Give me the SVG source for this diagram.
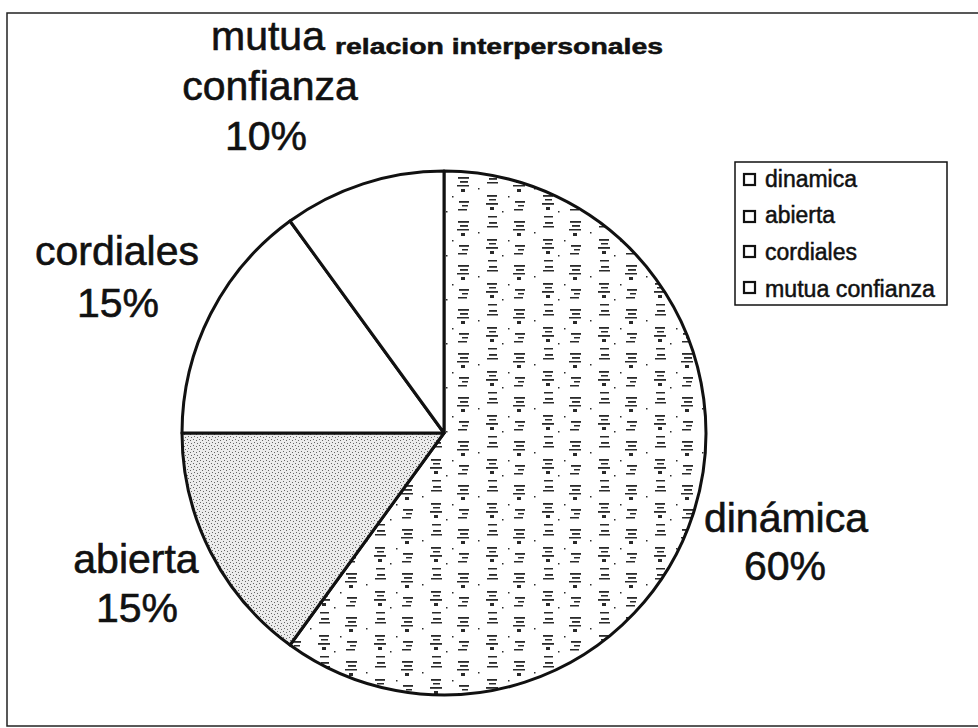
<svg xmlns="http://www.w3.org/2000/svg" width="978" height="728" viewBox="0 0 978 728">
<style>
.lbl{font-family:"Liberation Sans",Arial,sans-serif;font-size:41px;fill:#111;stroke:#111;stroke-width:0.6;text-anchor:middle}
.leg{font-family:"Liberation Sans",Arial,sans-serif;font-size:23px;fill:#111;stroke:#111;stroke-width:0.5}
.ttl{font-family:"Liberation Sans",Arial,sans-serif;font-size:22px;font-weight:bold;fill:#111;stroke:#111;stroke-width:0.5}
.slice{stroke:#111;stroke-width:3;stroke-linejoin:round}
.sw{fill:#fff;stroke:#111;stroke-width:2.2}
</style>
<defs>
<pattern id="pDin" width="56" height="44" patternUnits="userSpaceOnUse" x="450" y="175">
<rect width="56" height="44" fill="#fff"/>
<g fill="#2a2a2a">
<rect x="8" y="2" width="11" height="1.8"/>
<rect x="10" y="6" width="8" height="1.8"/>
<rect x="7" y="10" width="12" height="1.5"/>
<rect x="11" y="14" width="4" height="3"/>
<rect x="9" y="26" width="10" height="1.8"/>
<rect x="12" y="30" width="6" height="1.5"/>
<rect x="8" y="34" width="9" height="1.5"/>
<rect x="2" y="21" width="1.5" height="1.5"/>
<rect x="37" y="20" width="10" height="1.8"/>
<rect x="39" y="24" width="7" height="1.5"/>
<rect x="36" y="28" width="12" height="1.8"/>
<rect x="40" y="32" width="4" height="3"/>
<rect x="38" y="41" width="9" height="1.5"/>
<rect x="39" y="3" width="8" height="1.8"/>
<rect x="37" y="7" width="11" height="1.5"/>
<rect x="28" y="13" width="1.5" height="1.5"/>
<rect x="52" y="36" width="1.5" height="1.5"/>
</g>
</pattern>
<pattern id="pAb" width="6" height="6" patternUnits="userSpaceOnUse">
<rect width="6" height="6" fill="#ececec"/>
<g fill="#666">
<rect x="1" y="1" width="1" height="1"/>
<rect x="4" y="2" width="1" height="1"/>
<rect x="2" y="4" width="1" height="1"/>
<rect x="5" y="5" width="1" height="1"/>
</g>
</pattern>
</defs>
<rect width="978" height="728" fill="#fff"/>
<rect id="frame" x="7" y="13" width="990" height="713" fill="none" stroke="#222" stroke-width="1.5"/>
<g id="title"><text class="ttl" x="335" y="54" textLength="328" lengthAdjust="spacingAndGlyphs">relacion interpersonales</text></g>
<g id="pie">
<path id="s-dinamica" class="slice" fill="url(#pDin)" d="M444,433 L444,171 A262,262 0 1 1 290,645 Z"/>
<path id="s-abierta" class="slice" fill="url(#pAb)" d="M444,433 L290,645 A262,262 0 0 1 182,433 Z"/>
<path id="s-cordiales" class="slice" fill="#fff" d="M444,433 L182,433 A262,262 0 0 1 290,221 Z"/>
<path id="s-mutua" class="slice" fill="#fff" d="M444,433 L290,221 A262,262 0 0 1 444,171 Z"/>
</g>
<g id="lbl-mutua"><text class="lbl" x="268" y="50">mutua</text><text class="lbl" x="270" y="100">confianza</text><text class="lbl" x="266" y="150">10%</text></g>
<g id="lbl-cordiales"><text class="lbl" x="117" y="265">cordiales</text><text class="lbl" x="118" y="317">15%</text></g>
<g id="lbl-abierta"><text class="lbl" x="136" y="573">abierta</text><text class="lbl" x="137" y="622">15%</text></g>
<g id="lbl-dinamica"><text class="lbl" x="786" y="532">dinámica</text><text class="lbl" x="785" y="580">60%</text></g>
<g id="legend">
<rect x="735" y="162" width="212" height="143" fill="#fff" stroke="#111" stroke-width="1.5"/>
<rect class="sw" x="744" y="174" width="11" height="11"/>
<text class="leg" x="765" y="187" textLength="92" lengthAdjust="spacingAndGlyphs">dinamica</text>
<rect class="sw" x="744" y="211" width="11" height="11"/>
<text class="leg" x="765" y="223" textLength="70" lengthAdjust="spacingAndGlyphs">abierta</text>
<rect class="sw" x="744" y="246" width="11" height="11"/>
<text class="leg" x="765" y="260" textLength="92" lengthAdjust="spacingAndGlyphs">cordiales</text>
<rect class="sw" x="744" y="282" width="11" height="11"/>
<text class="leg" x="765" y="297" textLength="170" lengthAdjust="spacingAndGlyphs">mutua confianza</text>
</g>
</svg>
